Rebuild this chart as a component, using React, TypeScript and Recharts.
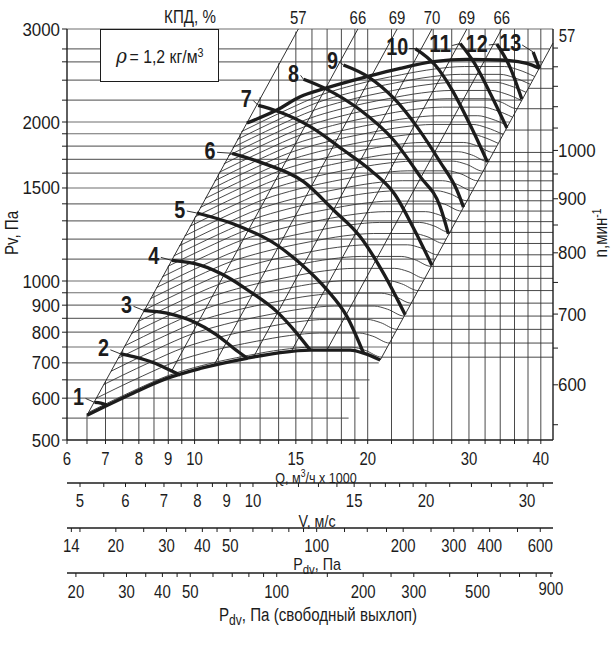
import React from 'react';
import { ComposedChart, Line, XAxis, YAxis } from 'recharts';

const FONT = "'Liberation Sans Narrow', 'Arial Narrow', 'Liberation Sans', Arial, sans-serif";
const INK = '#1c1c1c';

// axis ticks, as printed
const qTicks = [6, 6.5, 7, 7.5, 8, 8.5, 9, 9.5, 10, 11, 12, 13, 14, 15, 16, 17, 18, 19, 20, 22, 24, 26, 28, 30, 32, 34, 36, 38, 40];
const qLabels = [6, 7, 8, 9, 10, 15, 20, 30, 40];
const pTicks = [500, 550, 600, 650, 700, 750, 800, 850, 900, 950, 1000, 1100, 1200, 1300, 1400, 1500, 1600, 1700, 1800, 1900, 2000, 2200, 2400, 2600, 2750, 3000];
const pLabels = [500, 600, 700, 800, 900, 1000, 1500, 2000, 3000];
const nTicks = [550, 600, 650, 700, 750, 800, 850, 900, 950, 1000, 1050, 1100, 1150, 1200, 1250];
const nLabels = [600, 700, 800, 900, 1000];
const vTicks = [5, 5.5, 6, 6.5, 7, 7.5, 8, 8.5, 9, 9.5, 10, 11, 12, 13, 14, 15, 16, 17, 18, 19, 20, 22, 24, 26, 28, 30, 32];
const vLabels = [5, 6, 7, 8, 9, 10, 15, 20, 30];
const pdTicks = [14, 15, 20, 25, 30, 35, 40, 45, 50, 60, 70, 80, 90, 100, 125, 150, 175, 200, 250, 300, 350, 400, 500, 600];
const pdLabels = [14, 20, 30, 40, 50, 100, 200, 300, 400, 600];
const pfTicks = [20, 25, 30, 35, 40, 45, 50, 60, 70, 80, 90, 100, 150, 200, 250, 300, 400, 500, 600, 700, 800, 900];
const pfLabels = [20, 30, 40, 50, 100, 200, 300, 500, 900];

// axis ranges
const qRange = [6, 42];
const pRange = [500, 3000];
const nRange = [532, 1303];
const vRange = [4.746, 33.28];
const pdRange = [13.52, 664.5];
const pfRange = [18.62, 915.4];

// grid
const pGrid = [550, 600, 650, 700, 750, 800, 850, 900, 950, 1000, 1100, 1200, 1300, 1400, 1500, 1600, 1700, 1800, 1900, 2000, 2200, 2400, 2600, 2750, 3000];
const qGrid = [6.5, 7, 7.5, 8, 8.5, 9, 9.5, 10, 11, 12, 13, 14, 15, 16, 17, 18, 19, 20, 22, 24, 26, 28, 30, 32, 34, 36, 38, 40];

// speeds, min^-1
const baseSpeed = 636;
const arcSpeeds = [640, 660, 680, 700, 720, 740, 760, 780, 800, 820, 840, 860, 880, 900, 920, 940, 960, 980, 1000, 1020, 1040, 1060, 1080, 1100, 1120, 1140, 1160, 1180];
const nLines = [640, 660, 680, 700, 720, 740, 760, 780, 800, 820, 840, 860, 880, 900, 920, 940, 960, 980, 1000, 1050, 1100, 1150, 1200];

// envelopes: Q (1000 m3/h), Pv (Pa)
const lowEnvelope: [number, number][] = [[6.5, 557], [7.01, 580], [7.83, 614], [8.95, 654], [10.23, 683], [12.33, 714], [14.09, 732], [15.89, 740], [18.65, 740], [19.67, 730], [21.03, 708.5]];
const highEnvelope: [number, number][] = [[12.33, 1991], [13.9, 2107], [15.26, 2233], [16.87, 2316], [19.94, 2437], [22.78, 2527], [26.02, 2601], [29.75, 2629], [33.99, 2621], [37.82, 2583], [39.78, 2527]];

// fan curves 1..13
const curveNames = ['1', '2', '3', '4', '5', '6', '7', '8', '9', '10', '11', '12', '13'];
const curves: [number, number][][] = [
  [[6.7, 589], [6.87, 587], [7.04, 582]],
  [[7.43, 728], [7.83, 719], [8.49, 700], [9.01, 680], [9.44, 664]],
  [[8.15, 880], [8.95, 869], [9.96, 837], [10.94, 790], [11.69, 746], [12.33, 715]],
  [[9.13, 1094], [10.23, 1072], [11.38, 1019], [12.5, 954], [13.9, 875], [15.06, 796], [15.89, 740]],
  [[10.09, 1345], [11.69, 1282], [13.9, 1170], [15.26, 1080], [16.99, 962], [18.41, 856], [19.67, 730]],
  [[11.62, 1745], [13.18, 1670], [15.47, 1542], [17.44, 1363], [19.41, 1213], [21.31, 1034], [23.24, 863]],
  [[12.9, 2150], [13.9, 2098], [15.89, 1960], [18.15, 1770], [20.21, 1622], [22.33, 1455], [24.02, 1260], [25.86, 1071]],
  [[15.47, 2409], [16.99, 2306], [19.41, 2107], [22.18, 1849], [24.68, 1576], [26.73, 1383], [27.63, 1228]],
  [[18.15, 2564], [20.07, 2433], [22.18, 2221], [24.35, 1960], [26.73, 1680], [28.58, 1487], [29.35, 1380]],
  [[24.19, 2755], [26.2, 2564], [28.05, 2299], [30.15, 1974], [32.3, 1680]],
  [[28.96, 2816], [30.55, 2601], [32.66, 2267], [34.92, 1948]],
  [[33.54, 2810], [35.38, 2536], [37.07, 2210]],
  [[38.79, 2714], [39.78, 2527]],
];

// efficiency lines (КПД, %)
const effNames = ['57', '66', '69', '70', '69', '66', '57'];
const effLines: [number, number][][] = [
  [[6.5, 557], [15.15, 3000]],
  [[9.1, 672], [19.23, 3000]],
  [[10.8, 692], [22.5, 3000]],
  [[12.66, 718], [25.87, 3000]],
  [[14.7, 733], [29.75, 3000]],
  [[17.0, 741], [34.2, 3000]],
  [[21.03, 708.5], [42, 2822]],
];

// label offsets from curve start, px
const curveLabelOffset = [[-16, -6], [-17, -6], [-17, -6], [-18, -5], [-17, -4], [-22, -3], [-12, -7], [-10, -6], [-11, -5], [-18, -2], [-20, 0], [-20, -1], [-23, -9]];

const pts = (arr: [number, number][]) => arr.map(([q, p]) => ({ q, p }));
const leftEdge = effLines[0][0];
const rightEdge = effLines[6][0];

const vGrid = qGrid.map((q) => [
  { q, p: pRange[0] },
  { q, p: Math.min(pRange[1], leftEdge[1] * (q / leftEdge[0]) ** 2) },
]);
const hGrid = pGrid.map((p) => [
  { q: qRange[0], p },
  { q: Math.min(qRange[1], rightEdge[0] * Math.sqrt(p / rightEdge[1])), p },
]);
const speedArc = (n: number) => lowEnvelope.map(([q, p]) => ({ q: (q * n) / baseSpeed, p: p * (n / baseSpeed) ** 2 }));
const arcs = arcSpeeds.map((n) => {
  const a = speedArc(n);
  if (nLines.includes(n)) a.push({ q: qRange[1], p: a[a.length - 1].p });
  return a;
});
const loneLines = nLines
  .filter((n) => !arcSpeeds.includes(n))
  .map((n) => {
    const a = speedArc(n);
    const e = a[a.length - 1];
    return [e, { q: qRange[1], p: e.p }];
  });

// narrow face: squeeze glyphs to the printed width
const Num = ({ x, y, anchor = 'middle', size = 18, w = 8.3, bold = false, children }: any) => {
  const s = String(children);
  return (
    <text x={x} y={y} textAnchor={anchor} fontSize={size} fontWeight={bold ? 'bold' : 'normal'} fontFamily={FONT} fill={INK}
      textLength={s.length * w} lengthAdjust="spacingAndGlyphs">
      {s}
    </text>
  );
};

const bottomTick = (labels: number[], dy: number) => (props: any) => {
  const { x, y, payload } = props;
  if (!labels.includes(payload.value)) return <g />;
  const raise = payload.value === 900 ? 3 : 0;
  return <Num x={x} y={y + dy - raise}>{payload.value}</Num>;
};

const sideTick = (labels: number[], anchor: 'start' | 'end') => (props: any) => {
  const { x, y, payload } = props;
  if (!labels.includes(payload.value)) return <g />;
  return <Num x={x} y={y + 6.5} anchor={anchor} w={9.4}>{payload.value}</Num>;
};

const curveLabel = (name: string, off: number[]) => (props: any) => {
  const { x, y, index } = props;
  if (index !== 0) return null;
  const cx = x + off[0];
  const cy = y + off[1];
  const hw = name.length > 1 ? 11 : 6;
  return (
    <g>
      <line x1={cx + hw + 1} y1={cy + 2} x2={x} y2={y} stroke={INK} strokeWidth={0.9} />
      <Num x={cx} y={cy + 8.5} size={24} w={11} bold>{name}</Num>
    </g>
  );
};

const effLabel = (name: string, last: number, side: boolean) => (props: any) => {
  const { x, y, index } = props;
  if (index !== last) return null;
  const cx = side ? x + 14 : x;
  const cy = side ? y - 8 : y - 12;
  return <Num x={cx} y={cy + 6.5}>{name}</Num>;
};

const axisStroke = { stroke: INK, strokeWidth: 1.4 };
const tickStroke = { stroke: INK, strokeWidth: 1 };

const Txt = ({ x, y, rotate, size = 18, children }: any) => (
  <div
    style={{
      position: 'absolute',
      left: x,
      top: y,
      transform: `translate(-50%, -50%)${rotate ? ' rotate(-90deg)' : ''} scaleX(0.84)`,
      whiteSpace: 'nowrap',
      fontFamily: FONT,
      fontSize: size,
      lineHeight: 1,
      color: INK,
    }}
  >
    {children}
  </div>
);

const sup = { fontSize: '0.68em', verticalAlign: '0.5em', lineHeight: 0 } as const;
const sub = { fontSize: '0.8em', verticalAlign: '-0.3em', lineHeight: 0 } as const;

export default function App() {
  const common = { xAxisId: 'a', yAxisId: 'p', dataKey: 'p', dot: false, activeDot: false, isAnimationActive: false } as const;
  const hidden = { dot: false, activeDot: false, isAnimationActive: false, stroke: 'none', legendType: 'none' } as const;
  return (
    <div style={{ position: 'absolute', left: 0, top: 0, width: 616, height: 645, background: '#fff' }}>
      <ComposedChart width={616} height={645} margin={{ top: 29, right: 13, bottom: 20, left: 0 }}>
        <XAxis xAxisId="a" type="number" dataKey="q" scale="log" domain={qRange} ticks={qTicks} interval={0}
          height={43} tickSize={4} tickMargin={2} axisLine={axisStroke} tickLine={tickStroke} tick={bottomTick(qLabels, 18.5)} />
        <XAxis xAxisId="b" type="number" dataKey="v" scale="log" domain={vRange} ticks={vTicks} interval={0}
          height={45} tickSize={4} tickMargin={2} axisLine={axisStroke} tickLine={tickStroke} tick={bottomTick(vLabels, 18.3)} />
        <XAxis xAxisId="c" type="number" dataKey="pd" scale="log" domain={pdRange} ticks={pdTicks} interval={0}
          height={45} tickSize={4} tickMargin={2} axisLine={axisStroke} tickLine={tickStroke} tick={bottomTick(pdLabels, 18.3)} />
        <XAxis xAxisId="d" type="number" dataKey="pf" scale="log" domain={pfRange} ticks={pfTicks} interval={0}
          height={52} tickSize={4} tickMargin={2} axisLine={axisStroke} tickLine={tickStroke} tick={bottomTick(pfLabels, 19.4)} />
        <YAxis yAxisId="p" type="number" scale="log" domain={pRange} ticks={pTicks} interval={0}
          width={67} tickSize={5} tickMargin={2} axisLine={axisStroke} tickLine={tickStroke} tick={sideTick(pLabels, 'end')} />
        <YAxis yAxisId="n" orientation="right" type="number" dataKey="n" scale="log" domain={nRange} ticks={nTicks} interval={0}
          width={50} tickSize={5} tickMargin={0} axisLine={axisStroke} tickLine={tickStroke} tick={sideTick(nLabels, 'start')} />

        {/* carriers that bind the scale-only axes */}
        <Line xAxisId="a" yAxisId="n" dataKey="n" data={[{ q: qRange[0], n: nRange[0] }, { q: qRange[1], n: nRange[1] }]} {...hidden} />
        <Line xAxisId="b" yAxisId="p" dataKey="p" data={[{ v: vRange[0], p: pRange[0] }, { v: vRange[1], p: pRange[0] }]} {...hidden} />
        <Line xAxisId="c" yAxisId="p" dataKey="p" data={[{ pd: pdRange[0], p: pRange[0] }, { pd: pdRange[1], p: pRange[0] }]} {...hidden} />
        <Line xAxisId="d" yAxisId="p" dataKey="p" data={[{ pf: pfRange[0], p: pRange[0] }, { pf: pfRange[1], p: pRange[0] }]} {...hidden} />

        {hGrid.map((d, i) => (
          <Line key={`h${i}`} {...common} data={d} type="linear" stroke="#6e6e6e" strokeWidth={1.2} />
        ))}
        {vGrid.map((d, i) => (
          <Line key={`v${i}`} {...common} data={d} type="linear" stroke="#4a4a4a" strokeWidth={1} />
        ))}
        {arcs.map((d, i) => (
          <Line key={`a${i}`} {...common} data={d} type="monotone" stroke="#333" strokeWidth={0.9} />
        ))}
        {loneLines.map((d, i) => (
          <Line key={`n${i}`} {...common} data={d} type="linear" stroke="#333" strokeWidth={0.9} />
        ))}
        {effLines.map((d, i) => (
          <Line key={`e${i}`} {...common} data={pts(d)} type="linear" stroke={INK} strokeWidth={0.9}
            label={effLabel(effNames[i], d.length - 1, i === effLines.length - 1)} />
        ))}
        <Line key="low" {...common} data={pts(lowEnvelope)} type="monotone" stroke={INK} strokeWidth={3.3} />
        <Line key="high" {...common} data={pts(highEnvelope)} type="monotone" stroke={INK} strokeWidth={3.3} />
        {curves.map((d, i) => (
          <Line key={`c${i}`} {...common} data={pts(d)} type="monotone" stroke={INK} strokeWidth={3.3}
            label={curveLabel(curveNames[i], curveLabelOffset[i])} />
        ))}
      </ComposedChart>

      <div style={{ position: 'absolute', left: 100, top: 29, width: 117, height: 51, border: `1.3px solid ${INK}`, background: '#fff',
        display: 'flex', alignItems: 'center', justifyContent: 'center', fontFamily: FONT, fontSize: 18, color: INK }}>
        <span style={{ display: 'inline-block', transform: 'scaleX(0.88)', whiteSpace: 'nowrap' }}>
          <span style={{ fontStyle: 'italic', fontFamily: "'DejaVu Serif', 'Liberation Serif', serif", fontSize: 21, marginRight: 3 }}>ρ</span>
          = 1,2 кг/м<span style={sup}>3</span>
        </span>
      </div>

      <Txt x={190} y={17}>КПД, %</Txt>
      <Txt x={316} y={476.5} size={15}>Q, м<span style={sup}>3</span>/ч x 1000</Txt>
      <Txt x={317} y={520.5} size={17}>V, м/с</Txt>
      <Txt x={317} y={564} size={17}>P<span style={sub}>dv</span>, Па</Txt>
      <Txt x={318} y={615}>P<span style={sub}>dv</span>, Па (свободный выхлоп)</Txt>
      <Txt x={12} y={233} rotate>Pv, Па</Txt>
      <Txt x={601} y={233} rotate>n,мин<span style={sup}>-1</span></Txt>
    </div>
  );
}
